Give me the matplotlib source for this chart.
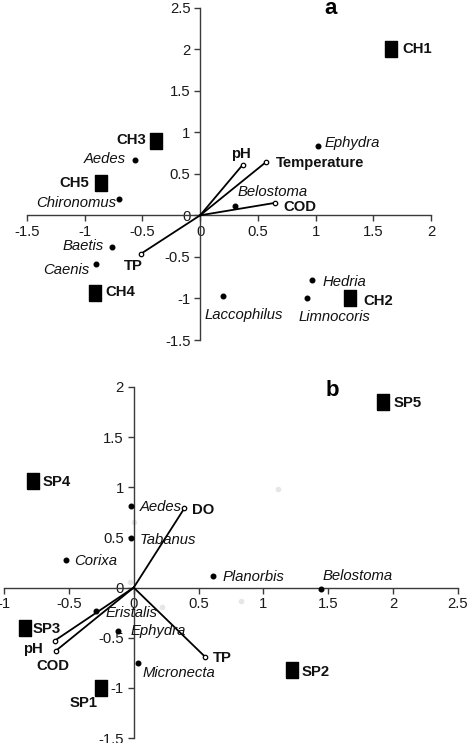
import numpy as np
import matplotlib
matplotlib.use("Agg")
import matplotlib.pyplot as plt

plt.rcParams["font.family"] = ["Liberation Sans", "DejaVu Sans"]

# -------------------------
# Data: panel a (channels)
# -------------------------
a_sites = ["CH1", "CH2", "CH3", "CH4", "CH5"]
a_site_x = [1.65, 1.30, -0.38, -0.91, -0.86]
a_site_y = [2.00, -0.99, 0.90, -0.94, 0.39]

a_taxa = ["Ephydra", "Aedes", "Chironomus", "Baetis", "Caenis", "Belostoma",
          "Laccophilus", "Hedria", "Limnocoris"]
a_taxa_x = [1.02, -0.565, -0.70, -0.76, -0.90, 0.30, 0.20, 0.97, 0.93]
a_taxa_y = [0.83, 0.67, 0.20, -0.38, -0.58, 0.11, -0.97, -0.78, -0.99]

a_env = ["pH", "Temperature", "COD", "TP"]
a_env_x = [0.37, 0.57, 0.65, -0.51]
a_env_y = [0.61, 0.64, 0.15, -0.46]

# -------------------------
# Data: panel b (sites)
# -------------------------
b_sites = ["SP1", "SP2", "SP3", "SP4", "SP5"]
b_site_x = [-0.25, 1.22, -0.84, -0.78, 1.92]
b_site_y = [-1.00, -0.82, -0.40, 1.06, 1.85]

b_taxa = ["Aedes", "Tabanus", "Corixa", "Planorbis", "Belostoma", "Eristalis",
          "Ephydra", "Micronecta"]
b_taxa_x = [-0.02, -0.02, -0.52, 0.61, 1.44, -0.29, -0.12, 0.03]
b_taxa_y = [0.81, 0.49, 0.27, 0.12, -0.01, -0.23, -0.43, -0.75]

b_env = ["DO", "TP", "pH", "COD"]
b_env_x = [0.39, 0.55, -0.61, -0.60]
b_env_y = [0.79, -0.69, -0.53, -0.63]

# faint grey specks visible in panel b
b_ghost_x = [1.11, 0.0, -0.03, 0.22, 0.83]
b_ghost_y = [0.98, 0.65, 0.06, -0.19, -0.13]

# -------------------------
# Label layout (offsets in pixels, ha)
# -------------------------
a_site_lbl = {"CH1": (12, 0, "left"), "CH2": (13, -3, "left"), "CH3": (-10, 0, "right"),
              "CH4": (10, 1, "left"), "CH5": (-12, 0, "right")}
a_taxa_lbl = {"Ephydra": (7, 3, "left"), "Aedes": (-9, 1, "right"),
              "Chironomus": (-3, -4, "right"), "Baetis": (-9, 1, "right"),
              "Caenis": (-7, -6, "right"), "Belostoma": (3, 14, "left"),
              "Laccophilus": (-19, -19, "left"), "Hedria": (10, -2, "left"),
              "Limnocoris": (-9, -19, "left")}
a_env_lbl = {"pH": (-2, 11, "center"), "Temperature": (10, -1, "left"),
             "COD": (8, -4, "left"), "TP": (-8, -12, "center")}

b_site_lbl = {"SP1": (-4, -15, "right"), "SP2": (10, -2, "left"), "SP3": (8, -1, "left"),
              "SP4": (10, -1, "left"), "SP5": (11, -1, "left")}
b_taxa_lbl = {"Aedes": (9, -1, "left"), "Tabanus": (9, -2, "left"),
              "Corixa": (8, -1, "left"), "Planorbis": (10, -1, "left"),
              "Belostoma": (2, 13, "left"), "Eristalis": (9, -2, "left"),
              "Ephydra": (12, 0, "left"), "Micronecta": (5, -10, "left")}
b_env_lbl = {"DO": (8, -2, "left"), "TP": (8, -1, "left"),
             "pH": (-12, -8, "right"), "COD": (-3, -15, "center")}

AXCOL = "#3a3a3a"
FS = 10.7
RECT = [(-4, -5), (4, -5), (4, 5), (-4, 5), (-4, -5)]


def px(v):
    # pixel offset -> points (dpi 100)
    return v * 72.0 / 100.0


def setup_axes(ax, xlim, ylim, xticks, yticks):
    ax.set_xlim(*xlim)
    ax.set_ylim(*ylim)
    for s in ["top", "right"]:
        ax.spines[s].set_visible(False)
    ax.spines["left"].set_position(("data", 0))
    ax.spines["bottom"].set_position(("data", 0))
    for s in ["left", "bottom"]:
        ax.spines[s].set_color(AXCOL)
        ax.spines[s].set_linewidth(1.0)
    ax.set_xticks(xticks)
    ax.set_yticks(yticks)
    ax.set_xticklabels([f"{t:g}" for t in xticks])
    ax.set_yticklabels([f"{t:g}" for t in yticks])
    ax.tick_params(direction="out", length=4, width=1.0, color=AXCOL,
                   labelsize=FS, labelcolor="#1a1a1a", pad=3)
    ax.patch.set_alpha(0)


def annotate(ax, names, xs, ys, layout, style, weight):
    for n, x, y in zip(names, xs, ys):
        dx, dy, ha = layout[n]
        ax.annotate(n, (x, y), xytext=(px(dx), px(dy)), textcoords="offset points",
                    ha=ha, va="center", fontsize=FS, fontstyle=style,
                    fontweight=weight, color="#111111")


def draw_panel(ax, sites, sx, sy, slbl, taxa, tx, ty, tlbl, env, ex, ey, elbl):
    for x, y in zip(ex, ey):
        ax.plot([0, x], [0, y], color="black", lw=1.3, zorder=3)
    ax.plot(ex, ey, "o", ms=3.2, mfc="white", mec="black", mew=0.9, zorder=4, ls="none")
    ax.plot(tx, ty, "o", ms=3.3, color="black", ls="none", zorder=4)
    ax.plot(sx, sy, marker=RECT, ms=11, color="black", ls="none", zorder=4)
    annotate(ax, sites, sx, sy, slbl, "normal", "bold")
    annotate(ax, taxa, tx, ty, tlbl, "italic", "normal")
    annotate(ax, env, ex, ey, elbl, "normal", "bold")


W, H = 467, 743
fig = plt.figure(figsize=(W / 100, H / 100), dpi=100)


def axes_px(x0, x1, y0, y1):
    return fig.add_axes([x0 / W, 1 - y1 / H, (x1 - x0) / W, (y1 - y0) / H])


# panel a
ax_a = axes_px(27, 431, 7.5, 340)
setup_axes(ax_a, (-1.5, 2.0), (-1.5, 2.5),
           [-1.5, -1, -0.5, 0, 0.5, 1, 1.5, 2], [-1.5, -1, -0.5, 0, 0.5, 1, 1.5, 2, 2.5])
draw_panel(ax_a, a_sites, a_site_x, a_site_y, a_site_lbl,
           a_taxa, a_taxa_x, a_taxa_y, a_taxa_lbl,
           a_env, a_env_x, a_env_y, a_env_lbl)
fig.text(331 / W, 1 - 9 / H, "a", fontsize=16, fontweight="bold", ha="center", va="center")

# panel b
ax_b = axes_px(4, 458, 387, 738)
setup_axes(ax_b, (-1.0, 2.5), (-1.5, 2.0),
           [-1, -0.5, 0, 0.5, 1, 1.5, 2, 2.5], [-1.5, -1, -0.5, 0, 0.5, 1, 1.5, 2])
ax_b.plot(b_ghost_x, b_ghost_y, "o", ms=3, color="#e6e6e6", ls="none", zorder=1)
draw_panel(ax_b, b_sites, b_site_x, b_site_y, b_site_lbl,
           b_taxa, b_taxa_x, b_taxa_y, b_taxa_lbl,
           b_env, b_env_x, b_env_y, b_env_lbl)
fig.text(332 / W, 1 - 390 / H, "b", fontsize=16, fontweight="bold", ha="center", va="center")

fig.savefig("out.png", dpi=100)
